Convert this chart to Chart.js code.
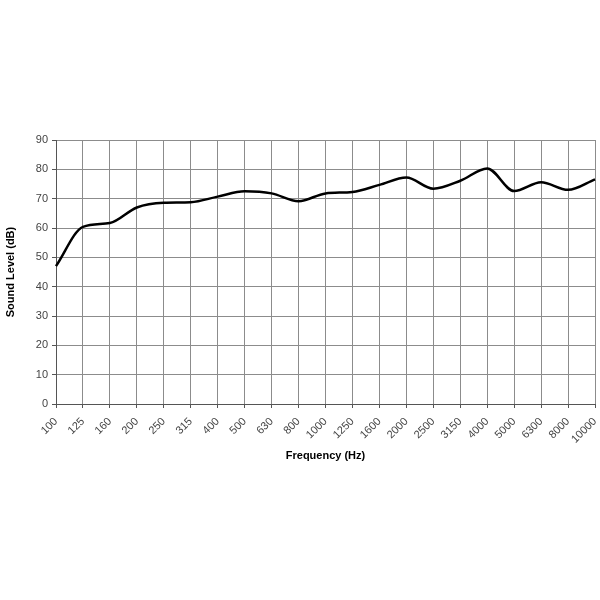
<!DOCTYPE html>
<html>
<head>
<meta charset="utf-8">
<script src="https://cdn.jsdelivr.net/npm/chart.js@4"></script>
<style>
  html, body { margin: 0; padding: 0; background: #fff; }
  #wrap { width: 600px; height: 600px; }
</style>
</head>
<body>
<div id="wrap"><canvas id="myChart" width="600" height="600"></canvas></div>
<script>
// frekuensi (Hz) dan level suara (dB)
var frekuensi = ['100', '125', '160', '200', '250', '315', '400', '500', '630', '800', '1000',
  '1250', '1600', '2000', '2500', '3150', '4000', '5000', '6300', '8000', '10000'];
var levelSuara = [47.0, 60.4, 61.7, 67.0, 68.6, 68.8, 70.7, 72.5, 71.8, 69.1, 71.8,
  72.3, 74.7, 77.2, 73.4, 76.1, 80.3, 72.6, 75.6, 73.0, 76.6];
var tickY = [0, 10, 20, 30, 40, 50, 60, 70, 80, 90];

var ctx = document.getElementById('myChart').getContext('2d');
var myChart = new Chart(ctx, {
  type: 'line',
  data: {
    labels: frekuensi,
    datasets: [{
      data: levelSuara,
      borderColor: '#000',
      borderWidth: 2.5,
      pointRadius: 0,
      fill: false,
      cubicInterpolationMode: 'monotone'
    }]
  },
  options: {
    responsive: false,
    animation: false,
    layout: { padding: { left: 2, top: 140, right: 5, bottom: 133 } },
    plugins: { legend: { display: false }, tooltip: { enabled: false } },
    scales: {
      x: {
        offset: false,
        grid: { color: '#8c8c8c', lineWidth: 1, tickLength: 4, tickColor: '#555' },
        border: { color: '#555', width: 1 },
        ticks: {
          autoSkip: false, maxRotation: 45, minRotation: 45, padding: 7,
          color: '#444', font: { family: 'Liberation Sans', size: 11 }
        },
        title: {
          display: true, text: 'Frequency (Hz)', color: '#000',
          font: { family: 'Liberation Sans', size: 11, weight: 'bold' },
          padding: { top: 4, bottom: 4 }
        },
        afterFit: function(scale) {
          scale.height = 63;
          scale.paddingLeft = 0;
          scale.paddingRight = 0;
        }
      },
      y: {
        min: 0, max: 90,
        afterBuildTicks: function(scale) {
          scale.ticks = tickY.map(function(v) { return { value: v }; });
        },
        grid: { color: '#8c8c8c', lineWidth: 1, tickLength: 4, tickColor: '#555' },
        border: { color: '#555', width: 1 },
        ticks: {
          padding: 4, color: '#444', font: { family: 'Liberation Sans', size: 11 }
        },
        title: {
          display: true, text: 'Sound Level (dB)', color: '#000',
          font: { family: 'Liberation Sans', size: 11, weight: 'bold' },
          padding: { top: 2, bottom: 2 }
        },
        afterFit: function(scale) { scale.width = 54; }
      }
    }
  }
});
</script>
</body>
</html>
